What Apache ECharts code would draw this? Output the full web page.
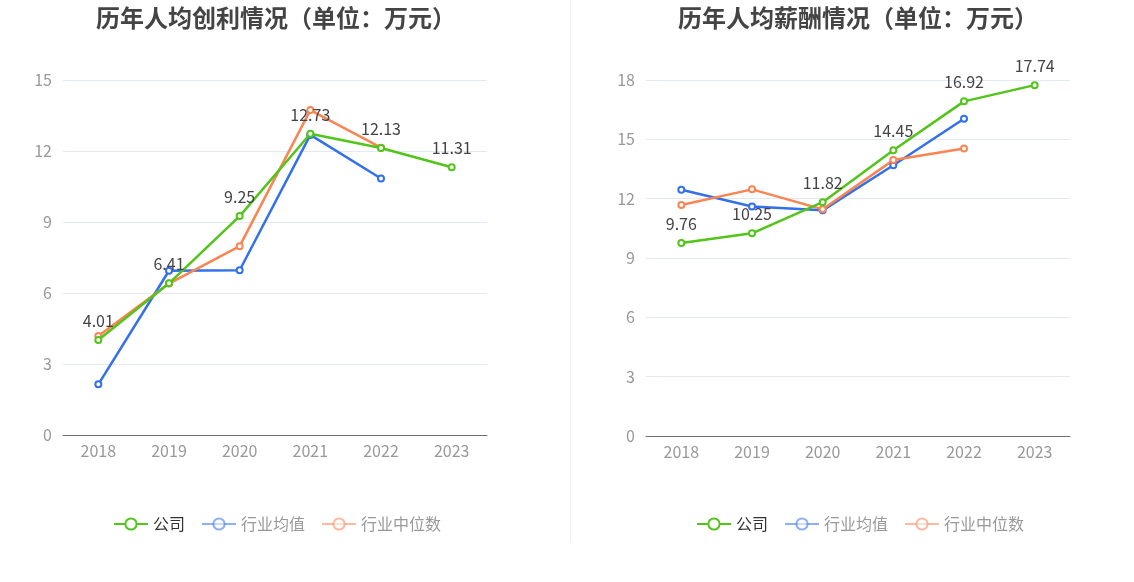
<!DOCTYPE html>
<html><head><meta charset="utf-8">
<script src="https://cdn.jsdelivr.net/npm/echarts@6/dist/echarts.min.js"></script>
<style>html,body{margin:0;padding:0;background:#fff}#c{width:1134px;height:582px}</style>
</head><body><div id="c"></div>
<script>
const years = ['2018','2019','2020','2021','2022','2023'];
const profitCompany = [4.01, 6.41, 9.25, 12.73, 12.13, 11.31];
const profitAvg = [2.14, 6.94, 6.96, 12.68, 10.84, null];
const profitMedian = [4.18, 6.40, 7.98, 13.73, 12.14, null];
const salaryCompany = [9.76, 10.25, 11.82, 14.45, 16.92, 17.74];
const salaryAvg = [12.45, 11.60, 11.41, 13.69, 16.04, null];
const salaryMedian = [11.68, 12.47, 11.46, 13.95, 14.54, null];
const profitTicks = [0, 3, 6, 9, 12, 15];
const salaryTicks = [0, 3, 6, 9, 12, 15, 18];

const C_GREEN = '#52C41A', C_BLUE = '#3370EB', C_ORANGE = '#FA8452';
const FONT = '"Noto Sans CJK SC", "Noto Sans", sans-serif';

function legendData() {
  return [
    {name: '公司', textStyle: {color: '#333'}},
    {name: '行业均值', itemStyle: {opacity: 0.55}, lineStyle: {opacity: 0.55}, textStyle: {color: '#999'}},
    {name: '行业中位数', itemStyle: {opacity: 0.55}, lineStyle: {opacity: 0.55}, textStyle: {color: '#999'}}
  ];
}
function xAxis(gi) {
  return {
    type: 'category', gridIndex: gi, data: years, boundaryGap: true,
    axisLine: {lineStyle: {color: '#6E7079'}},
    axisTick: {alignWithLabel: true, lineStyle: {color: '#6E7079'}},
    axisLabel: {color: '#999', fontSize: 16, margin: 8, fontFamily: FONT}
  };
}
function yAxis(gi, ticks) {
  return {
    type: 'value', gridIndex: gi, min: ticks[0], max: ticks[ticks.length - 1], interval: ticks[1] - ticks[0],
    axisLine: {show: false}, axisTick: {show: false},
    splitLine: {lineStyle: {color: '#E3E8F4'}},
    axisLabel: {color: '#999', fontSize: 16, margin: 11, fontFamily: FONT}
  };
}
function line(name, data, color, gi, label) {
  return {
    type: 'line', name, data, xAxisIndex: gi, yAxisIndex: gi,
    symbol: 'emptyCircle', symbolSize: 6, connectNulls: false,
    lineStyle: {width: 2.5, color}, itemStyle: {color, borderWidth: 2},
    label: label ? {show: true, position: 'top', color: '#444', fontSize: 16, distance: 7, fontFamily: FONT} : {show: false},
    z: label ? 3 : 2
  };
}

const chart = echarts.init(document.getElementById('c'), null, {renderer: 'canvas'});
chart.setOption({
  animation: false,
  textStyle: {fontFamily: FONT},
  title: [
    {text: '历年人均创利情况（单位：万元）', left: 271, top: 1, textAlign: 'center',
     textStyle: {fontSize: 24, fontWeight: 'bold', color: '#444', fontFamily: FONT}},
    {text: '历年人均薪酬情况（单位：万元）', left: 853, top: 1, textAlign: 'center',
     textStyle: {fontSize: 24, fontWeight: 'bold', color: '#444', fontFamily: FONT}}
  ],
  legend: [
    {data: legendData(), left: 108, top: 511, itemWidth: 34, itemHeight: 14, itemGap: 16,
     textStyle: {fontSize: 16, fontFamily: FONT}},
    {data: legendData(), left: 691, top: 511, itemWidth: 34, itemHeight: 14, itemGap: 16,
     textStyle: {fontSize: 16, fontFamily: FONT}}
  ],
  grid: [
    {left: 63, top: 80, width: 424, height: 355},
    {left: 646, top: 80, width: 424, height: 356}
  ],
  xAxis: [xAxis(0), xAxis(1)],
  yAxis: [yAxis(0, profitTicks), yAxis(1, salaryTicks)],
  graphic: [{type: 'line', shape: {x1: 570.5, y1: 0, x2: 570.5, y2: 542}, style: {stroke: '#EEF0F4', lineWidth: 1}}],
  series: [
    line('公司', profitCompany, C_GREEN, 0, true),
    line('行业均值', profitAvg, C_BLUE, 0, false),
    line('行业中位数', profitMedian, C_ORANGE, 0, false),
    line('公司', salaryCompany, C_GREEN, 1, true),
    line('行业均值', salaryAvg, C_BLUE, 1, false),
    line('行业中位数', salaryMedian, C_ORANGE, 1, false)
  ]
});
</script></body></html>
